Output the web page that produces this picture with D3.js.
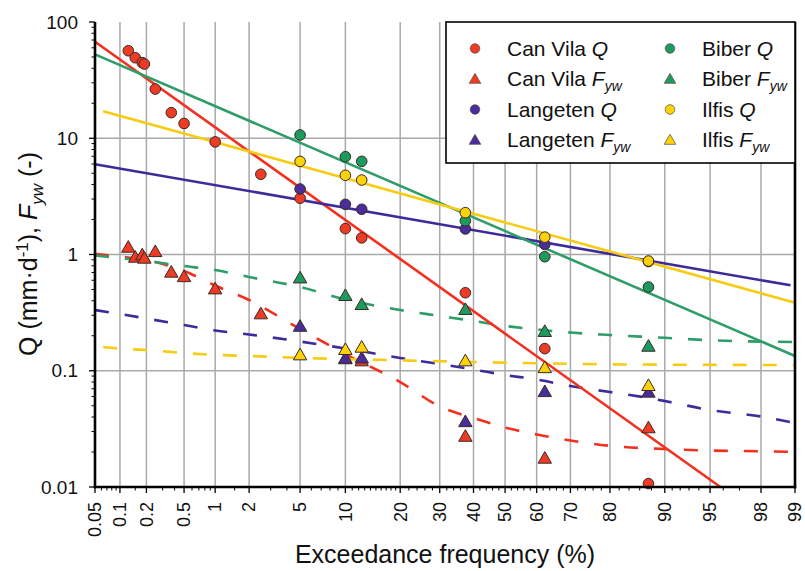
<!DOCTYPE html>
<html><head><meta charset="utf-8">
<script src="https://cdn.jsdelivr.net/npm/d3@7"></script>
<style>body{margin:0;background:#fff}svg{display:block;font-family:Arial,"Liberation Sans",sans-serif}</style>
</head><body><svg id="c" width="805" height="571"></svg>
<script>
// ---------- data ----------
const xMajorTicks = [0.05,0.1,0.2,0.5,1,2,5,10,20,30,40,50,60,70,80,90,95,98,99];
const xMinorTicks = [0.06,0.07,0.08,0.09,0.15,0.3,0.4,0.6,0.7,0.8,0.9,1.5,3,4,6,7,8,9,
  11,12,13,14,15,16,17,18,19,22,24,26,28,32,34,36,38,42,44,46,48,52,54,56,58,
  62,64,66,68,72,74,76,78,82,84,86,88,91,92,93,94,96,97];
const yMajorTicks = [0.01,0.1,1,10,100];
const yTickLabels = ["0.01","0.1","1","10","100"];

// exceedance frequency (%)
const canVilaP = [0.125,0.15,0.18,0.19,0.25,0.37,0.5,1,2.5,5,10,12.5,37.5,62.5,87.5];
const canVilaQ = [56.6,49.3,44.7,43.5,26.5,16.6,13.4,9.3,4.9,3.05,1.67,1.39,0.469,0.155,0.0107];
const canVilaFP = [0.125,0.15,0.18,0.19,0.25,0.37,0.5,1,2.5,10,12.5,37.5,62.5,87.5];
const canVilaF = [1.13,0.927,0.971,0.909,1.036,0.689,0.631,0.495,0.302,0.124,0.119,0.0267,0.0173,0.0316];

const siteP = [5,10,12.5,37.5,62.5,87.5];
const langetenQ = [3.66,2.70,2.45,1.66,1.22,0.87];
const langetenF = [0.236,0.1255,0.126,0.0357,0.0647,0.064];
const biberQ = [10.67,6.94,6.33,1.95,0.957,0.525];
const biberF = [0.615,0.434,0.363,0.329,0.213,0.159];
const ilfisQ = [6.32,4.8,4.37,2.29,1.41,0.879];
const ilfisF = [0.134,0.149,0.156,0.119,0.104,0.073];

// fitted Q lines (straight on probability-log paper): [percent, value]
const canVilaQLine = [[0.05,67.7],[95.8,0.01]];
const langetenQLine = [[0.05,5.98],[98.9,0.543]];
const biberQLine = [[0.05,52.7],[99,0.134]];
const ilfisQLine = [[0.063,17.1],[99,0.385]];

// Fyw curves: [percent, value]
const canVilaFLine = [[0.05,1.01],[0.1,0.961],[0.2,0.897],[0.5,0.721],[1,0.541],[2,0.406],[5,0.2286],[10,0.139],[20,0.080],[30,0.0493],[40,0.0392],[50,0.0325],[60,0.0283],[70,0.0251],[80,0.0226],[90,0.0212],[95,0.0206],[98,0.0203],[98.9,0.0201]];
const langetenFLine = [[0.05,0.333],[0.1,0.3077],[0.2,0.2814],[0.5,0.2475],[1,0.2219],[2,0.205],[5,0.1785],[10,0.1554],[20,0.1287],[30,0.1143],[40,0.1025],[50,0.0919],[60,0.0841],[70,0.0739],[80,0.0656],[87.5,0.0583],[90,0.0549],[95,0.0459],[98,0.0404],[98.9,0.0362]];
const biberFLine = [[0.05,0.98],[0.1,0.933],[0.2,0.879],[0.5,0.796],[1,0.736],[2,0.640],[5,0.525],[10,0.410],[20,0.333],[30,0.296],[40,0.268],[50,0.243],[60,0.2264],[70,0.213],[80,0.203],[90,0.192],[95,0.183],[99,0.1768]];
const ilfisFLine = [[0.063,0.160],[0.1,0.155],[0.2,0.151],[0.5,0.142],[1,0.137],[2,0.134],[5,0.129],[10,0.126],[20,0.123],[40,0.119],[60,0.116],[80,0.1135],[99,0.112]];

// ---------- scales ----------
function probit(p){
  const a=[-3.969683028665376e+01,2.209460984245205e+02,-2.759285104469687e+02,1.383577518672690e+02,-3.066479806614716e+01,2.506628277459239e+00];
  const b=[-5.447609879822406e+01,1.615858368580409e+02,-1.556989798598866e+02,6.680131188771972e+01,-1.328068155288572e+01];
  const c=[-7.784894002430293e-03,-3.223964580411365e-01,-2.400758277161838e+00,-2.549732539343734e+00,4.374664141464968e+00,2.938163982698783e+00];
  const d=[7.784695709041462e-03,3.224671290700398e-01,2.445134137142996e+00,3.754408661907416e+00];
  const pl=0.02425, ph=1-pl; let q,r;
  if(p<pl){q=Math.sqrt(-2*Math.log(p));return (((((c[0]*q+c[1])*q+c[2])*q+c[3])*q+c[4])*q+c[5])/((((d[0]*q+d[1])*q+d[2])*q+d[3])*q+1);}
  if(p<=ph){q=p-0.5;r=q*q;return (((((a[0]*r+a[1])*r+a[2])*r+a[3])*r+a[4])*r+a[5])*q/(((((b[0]*r+b[1])*r+b[2])*r+b[3])*r+b[4])*r+1);}
  q=Math.sqrt(-2*Math.log(1-p));return -(((((c[0]*q+c[1])*q+c[2])*q+c[3])*q+c[4])*q+c[5])/((((d[0]*q+d[1])*q+d[2])*q+d[3])*q+1);
}
const L=95, R=795, T=22, B=487;
const zScale = d3.scaleLinear().domain([probit(0.0005), probit(0.99)]).range([L,R]);
const x = p => zScale(probit(p/100));
const y = d3.scaleLog().domain([0.01,100]).range([B,T]);

const svg = d3.select("#c");
const COL = {
  red:{fill:"#ee3b26",line:"#f3301f"},
  purple:{fill:"#4a2d9c",line:"#3e2b9b"},
  green:{fill:"#1d9a5e",line:"#2e9d69"},
  yellow:{fill:"#fdd208",line:"#f6cc12"}
};

// gridlines
const grid = svg.append("g").attr("stroke","#a9a9a9").attr("stroke-width",1.5);
xMajorTicks.filter(p=>p>0.05&&p<99).forEach(p=>{
  grid.append("line").attr("x1",x(p)).attr("x2",x(p)).attr("y1",T).attr("y2",B);
});
[0.1,1,10].forEach(v=>{
  grid.append("line").attr("x1",L).attr("x2",R).attr("y1",y(v)).attr("y2",y(v));
});

// lines
const line = d3.line().x(d=>x(d[0])).y(d=>y(d[1]));
const curve = d3.line().x(d=>x(d[0])).y(d=>y(d[1])).curve(d3.curveMonotoneX);
const dashed = [[canVilaFLine,"red"],[langetenFLine,"purple"],[biberFLine,"green"],[ilfisFLine,"yellow"]];
dashed.forEach(([data,c])=>{
  svg.append("path").attr("d",curve(data)).attr("fill","none").attr("stroke",COL[c].line)
    .attr("stroke-width",2.6).attr("stroke-dasharray","14,16");
});
const solid = [[canVilaQLine,"red"],[langetenQLine,"purple"],[biberQLine,"green"],[ilfisQLine,"yellow"]];
solid.forEach(([data,c])=>{
  svg.append("path").attr("d",line(data)).attr("fill","none").attr("stroke",COL[c].line)
    .attr("stroke-width",2.6);
});

// markers
const tri = d3.symbol().type(d3.symbolTriangle).size(78);
function circles(P,V,c){
  svg.append("g").selectAll("circle").data(P.map((p,i)=>[p,V[i]])).join("circle")
    .attr("cx",d=>x(d[0])).attr("cy",d=>y(d[1])).attr("r",5.3)
    .attr("fill",COL[c].fill).attr("stroke","#3a2a22").attr("stroke-width",1);
}
function triangles(P,V,c){
  svg.append("g").selectAll("path").data(P.map((p,i)=>[p,V[i]])).join("path")
    .attr("d",tri).attr("transform",d=>`translate(${x(d[0])},${y(d[1])})`)
    .attr("fill",COL[c].fill).attr("stroke","#3a2a22").attr("stroke-width",1);
}
triangles(canVilaFP,canVilaF,"red");
triangles(siteP,langetenF,"purple");
triangles(siteP,biberF,"green");
triangles(siteP,ilfisF,"yellow");
circles(canVilaP,canVilaQ,"red");
circles(siteP,langetenQ,"purple");
circles(siteP,biberQ,"green");
circles(siteP,ilfisQ,"yellow");

// axes
const ax = svg.append("g").attr("stroke","#000");
ax.append("line").attr("x1",L).attr("x2",L).attr("y1",T).attr("y2",B+1.2).attr("stroke-width",2.6);
ax.append("line").attr("x1",L-1.2).attr("x2",R+1.2).attr("y1",B).attr("y2",B).attr("stroke-width",2.6);
ax.append("line").attr("x1",R).attr("x2",R).attr("y1",T).attr("y2",B+1.2).attr("stroke-width",2.6);
xMajorTicks.forEach(p=>ax.append("line").attr("x1",x(p)).attr("x2",x(p)).attr("y1",B).attr("y2",B+6).attr("stroke-width",1.3));
xMinorTicks.forEach(p=>ax.append("line").attr("x1",x(p)).attr("x2",x(p)).attr("y1",B).attr("y2",B+3.5).attr("stroke-width",1));
yMajorTicks.forEach(v=>ax.append("line").attr("x1",L-6).attr("x2",L).attr("y1",y(v)).attr("y2",y(v)).attr("stroke-width",1.3));
[0.01,0.1,1,10].forEach(dec=>{ for(let k=2;k<=9;k++){ const v=dec*k;
  ax.append("line").attr("x1",L-3.5).attr("x2",L).attr("y1",y(v)).attr("y2",y(v)).attr("stroke-width",1); }});

// tick labels
svg.append("g").selectAll("text").data(xMajorTicks).join("text")
  .attr("transform",p=>`translate(${x(p)},502) rotate(-90)`)
  .attr("text-anchor","end").attr("dy","0.35em").attr("font-size",18).attr("fill","#111")
  .text(p=>String(p));
svg.append("g").selectAll("text").data(yMajorTicks).join("text")
  .attr("x",78).attr("y",v=>y(v)).attr("dy","0.35em").attr("text-anchor","end")
  .attr("font-size",19).attr("fill","#111").text((v,i)=>yTickLabels[i]);

// axis titles
svg.append("text").attr("x",445).attr("y",563).attr("text-anchor","middle")
  .attr("font-size",25).attr("fill","#111").text("Exceedance frequency (%)");
const yt = svg.append("text").attr("transform","translate(37,254) rotate(-90)")
  .attr("text-anchor","middle").attr("font-size",25).attr("fill","#111");
yt.append("tspan").text("Q (mm·d");
yt.append("tspan").attr("font-size",17).attr("dy",-9).text("-1");
yt.append("tspan").attr("dy",9).text("), ");
yt.append("tspan").attr("font-style","italic").text("F");
yt.append("tspan").attr("font-style","italic").attr("font-size",17).attr("dy",6).text("yw");
yt.append("tspan").attr("dy",-6).text(" (-)");

// legend
const lg = svg.append("g");
lg.append("rect").attr("x",446).attr("y",T).attr("width",R-446).attr("height",141)
  .attr("fill","#fff").attr("stroke","#000").attr("stroke-width",1.6);
const legendItems = [
  {name:"Can Vila",sym:"Q",c:"red",col:0,row:0},
  {name:"Can Vila",sym:"F",c:"red",col:0,row:1},
  {name:"Langeten",sym:"Q",c:"purple",col:0,row:2},
  {name:"Langeten",sym:"F",c:"purple",col:0,row:3},
  {name:"Biber",sym:"Q",c:"green",col:1,row:0},
  {name:"Biber",sym:"F",c:"green",col:1,row:1},
  {name:"Ilfis",sym:"Q",c:"yellow",col:1,row:2},
  {name:"Ilfis",sym:"F",c:"yellow",col:1,row:3}
];
const legTri = d3.symbol().type(d3.symbolTriangle).size(58);
legendItems.forEach(it=>{
  const mx = it.col ? 670 : 475, tx = it.col ? 702 : 507;
  const cy = 48.5 + it.row*30.5;
  if(it.sym==="Q"){
    lg.append("circle").attr("cx",mx).attr("cy",cy).attr("r",4.8)
      .attr("fill",COL[it.c].fill).attr("stroke","#5a4a40").attr("stroke-width",0.7);
  } else {
    lg.append("path").attr("d",legTri).attr("transform",`translate(${mx},${cy+1})`)
      .attr("fill",COL[it.c].fill).attr("stroke","#5a4a40").attr("stroke-width",0.7);
  }
  const t = lg.append("text").attr("x",tx).attr("y",cy+7.2).attr("font-size",21).attr("fill","#111");
  t.append("tspan").text(it.name+" ");
  t.append("tspan").attr("font-style","italic").text(it.sym);
  if(it.sym==="F") t.append("tspan").attr("font-style","italic").attr("font-size",14).attr("dy",5).text("yw");
});
</script></body></html>
